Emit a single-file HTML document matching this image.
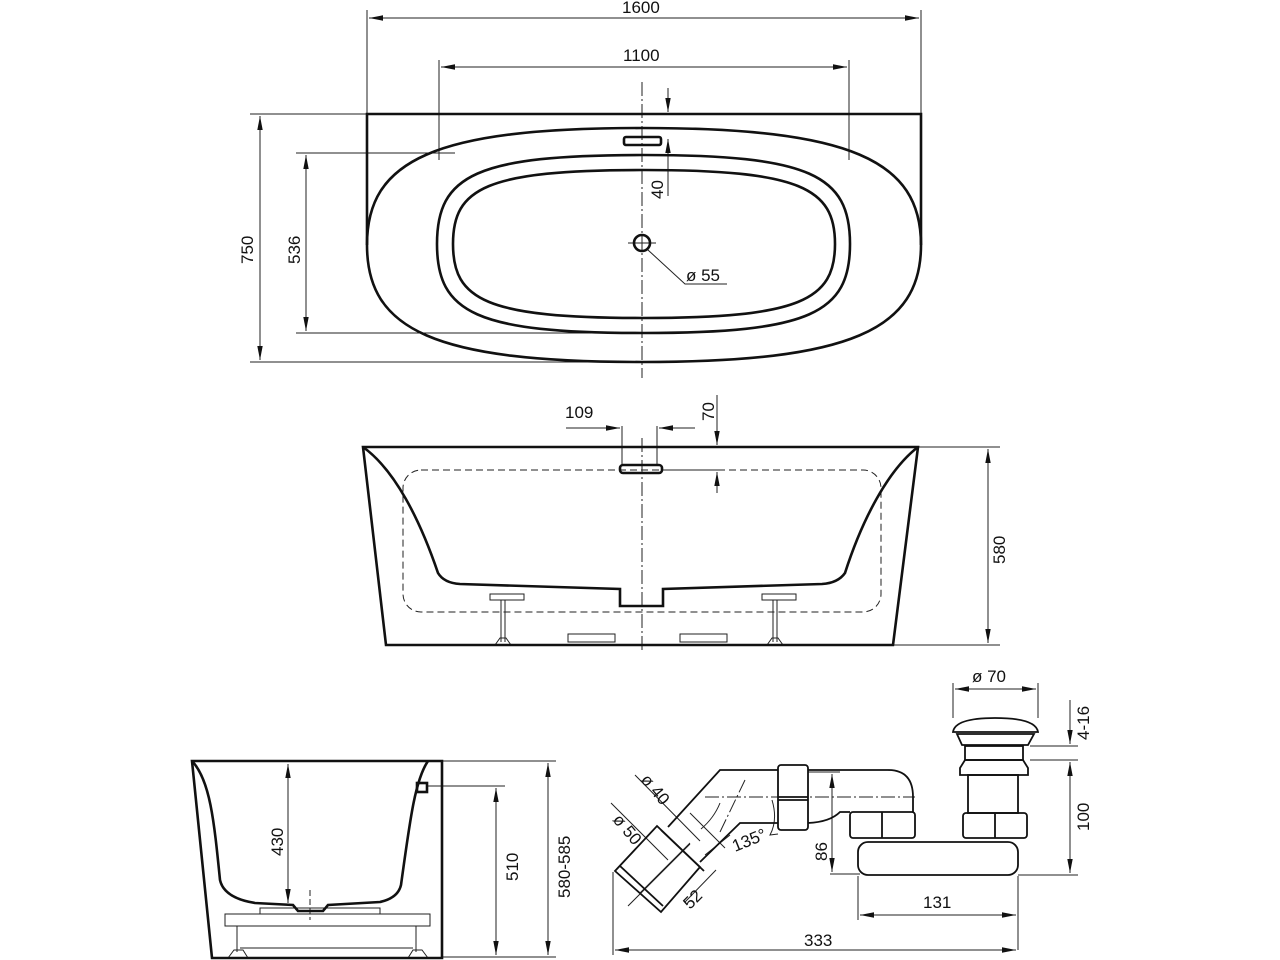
<!DOCTYPE html>
<html><head><meta charset="utf-8"><style>
html,body{margin:0;padding:0;background:#fff}
svg{display:block}
text{font-family:"Liberation Sans",sans-serif;font-size:17px;fill:#111}
</style></head><body>
<svg width="1280" height="960" viewBox="0 0 1280 960" xmlns="http://www.w3.org/2000/svg">
<defs>
<marker id="a" viewBox="0 0 14 6" refX="14" refY="3" markerWidth="14" markerHeight="6" markerUnits="userSpaceOnUse" orient="auto-start-reverse"><path d="M0 0.3 L14 3 L0 5.7 Z" fill="#111"/></marker>
</defs>
<g fill="none" stroke="#222" stroke-width="1">
<line x1="367" y1="10" x2="367" y2="114"/><line x1="921" y1="10" x2="921" y2="114"/>
<line x1="369" y1="18" x2="919" y2="18" marker-start="url(#a)" marker-end="url(#a)"/>
<line x1="439" y1="60" x2="439" y2="160"/><line x1="849" y1="60" x2="849" y2="160"/>
<line x1="441" y1="67" x2="847" y2="67" marker-start="url(#a)" marker-end="url(#a)"/>
<line x1="250" y1="114" x2="367" y2="114"/><line x1="250" y1="362" x2="640" y2="362"/>
<line x1="260" y1="116" x2="260" y2="360" marker-start="url(#a)" marker-end="url(#a)"/>
<line x1="296" y1="153" x2="455" y2="153"/><line x1="296" y1="333" x2="600" y2="333"/>
<line x1="306" y1="155" x2="306" y2="331" marker-start="url(#a)" marker-end="url(#a)"/>
<line x1="668" y1="88" x2="668" y2="112" marker-end="url(#a)"/>
<line x1="668" y1="196" x2="668" y2="139" marker-end="url(#a)"/>
<line x1="642" y1="82" x2="642" y2="378" stroke-dasharray="14 3 2 3"/>
<line x1="628" y1="243" x2="656" y2="243"/>
<polyline points="648,250 685,284 727,284"/>
</g>
<g fill="none" stroke="#111" stroke-width="2.6">
<path d="M367 245 L367 114 L921 114 L921 245"/>
<path d="M642 128 C850 128 921 160 921 245 C921 330 850 362 642 362 C434 362 367 330 367 245 C367 160 434 128 642 128 Z"/>
<path d="M643 155 C810 155 850 175 850 244 C850 313 810 333 643 333 C476 333 437 313 437 244 C437 175 476 155 643 155 Z"/>
<path d="M643 170 C800 170 835 188 835 244 C835 300 800 318 643 318 C486 318 453 300 453 244 C453 188 486 170 643 170 Z"/>
<rect x="624" y="137" width="37" height="8" rx="2"/>
<circle cx="642" cy="243" r="8"/>
</g>
<text x="622" y="13">1600</text>
<text x="623" y="61">1100</text>
<text transform="translate(253,264) rotate(-90)">750</text>
<text transform="translate(300,264) rotate(-90)">536</text>
<text transform="translate(663,199) rotate(-90)">40</text>
<text x="686" y="281">ø 55</text>

<g fill="none" stroke="#222" stroke-width="1">
<line x1="622" y1="426" x2="622" y2="466"/><line x1="657" y1="426" x2="657" y2="466"/>
<line x1="566" y1="428" x2="620" y2="428" marker-end="url(#a)"/>
<line x1="695" y1="428" x2="659" y2="428" marker-end="url(#a)"/>
<line x1="717" y1="395" x2="717" y2="445" marker-end="url(#a)"/>
<line x1="717" y1="493" x2="717" y2="472" marker-end="url(#a)"/>
<line x1="662" y1="470" x2="725" y2="470"/>
<line x1="918" y1="447" x2="1000" y2="447"/><line x1="893" y1="645" x2="1000" y2="645"/>
<line x1="988" y1="449" x2="988" y2="643" marker-start="url(#a)" marker-end="url(#a)"/>
<line x1="642" y1="438" x2="642" y2="652" stroke-dasharray="14 3 2 3"/>
<rect x="403" y="470" width="478" height="142" rx="18" stroke-dasharray="7 4"/>
<rect x="490" y="594" width="34" height="6"/>
<rect x="762" y="594" width="34" height="6"/>
<line x1="505" y1="600" x2="505" y2="642"/><line x1="501" y1="600" x2="501" y2="642"/>
<line x1="777" y1="600" x2="777" y2="642"/><line x1="773" y1="600" x2="773" y2="642"/>
<path d="M495 645 L500 638 L506 638 L511 645"/><path d="M767 645 L772 638 L778 638 L783 645"/>
<rect x="568" y="634" width="47" height="8"/><rect x="680" y="634" width="47" height="8"/>
</g>
<g fill="none" stroke="#111" stroke-width="2.6">
<path d="M363 447 L918 447 L893 645 L386 645 Z"/>
<path d="M363 447 C395 470 420 520 438 573 Q444 583 460 584 L620 589 L620 606 L663 606 L663 589 L822 584 Q838 583 845 573 C862 520 888 470 918 447"/>
<rect x="620" y="465" width="42" height="8" rx="3"/>
</g>
<text x="565" y="418">109</text>
<text transform="translate(714,421) rotate(-90)">70</text>
<text transform="translate(1005,564) rotate(-90)">580</text>

<g fill="none" stroke="#222" stroke-width="1">
<line x1="442" y1="761" x2="556" y2="761"/><line x1="428" y1="786" x2="505" y2="786"/>
<line x1="442" y1="957" x2="556" y2="957"/>
<line x1="288" y1="764" x2="288" y2="903" marker-start="url(#a)" marker-end="url(#a)"/>
<line x1="496" y1="788" x2="496" y2="955" marker-start="url(#a)" marker-end="url(#a)"/>
<line x1="548" y1="763" x2="548" y2="955" marker-start="url(#a)" marker-end="url(#a)"/>
<rect x="225" y="914" width="205" height="12"/>
<rect x="260" y="908" width="120" height="6"/>
<line x1="237" y1="926" x2="237" y2="952"/><line x1="416" y1="926" x2="416" y2="952"/>
<line x1="240" y1="948" x2="413" y2="948"/>
<path d="M228 958 L234 950 L243 950 L248 958"/><path d="M408 958 L413 950 L422 950 L428 958"/>
<line x1="310" y1="890" x2="310" y2="920" stroke-dasharray="6 3"/>
</g>
<g fill="none" stroke="#111" stroke-width="2.6">
<path d="M192 761 L442 761 L442 958 L212 958 Z"/>
<path d="M192 761 C210 780 214 820 220 880 Q224 898 255 903 L293 905 L298 911 L323 911 L328 905 L380 902 Q398 898 401 885 C410 820 415 780 428 761"/>
<rect x="417" y="783" width="10" height="9"/>
</g>
<text transform="translate(283,856) rotate(-90)">430</text>
<text transform="translate(518,881) rotate(-90)">510</text>
<text transform="translate(570,898) rotate(-90)">580-585</text>

<g fill="none" stroke="#222" stroke-width="1">
<line x1="953" y1="683" x2="953" y2="718"/><line x1="1038" y1="683" x2="1038" y2="718"/>
<line x1="955" y1="689" x2="1036" y2="689" marker-start="url(#a)" marker-end="url(#a)"/>
<line x1="1030" y1="746" x2="1078" y2="746"/><line x1="1030" y1="760" x2="1078" y2="760"/>
<line x1="1070" y1="700" x2="1070" y2="744" marker-end="url(#a)"/>
<line x1="1070" y1="762" x2="1070" y2="873" marker-start="url(#a)" marker-end="url(#a)"/>
<line x1="1018" y1="875" x2="1078" y2="875"/>
<line x1="808" y1="772" x2="840" y2="772"/>
<line x1="832" y1="774" x2="832" y2="872" marker-start="url(#a)" marker-end="url(#a)"/>
<line x1="830" y1="874" x2="860" y2="874"/>
<line x1="858" y1="876" x2="858" y2="920"/><line x1="1018" y1="876" x2="1018" y2="950"/>
<line x1="860" y1="915" x2="1016" y2="915" marker-start="url(#a)" marker-end="url(#a)"/>
<line x1="613" y1="872" x2="613" y2="955"/>
<line x1="615" y1="950" x2="1016" y2="950" marker-start="url(#a)" marker-end="url(#a)"/>
<line x1="705" y1="797" x2="915" y2="797" stroke-dasharray="14 3 2 3"/>
<path d="M701 829 Q714 818 720 803 M772 800 Q778 820 770 835 L778 834"/>
<path d="M635 775 L700 841 M611 803 L668 860 M640 893 L690 843 M690 813 L725 848 M628 906 L690 844"/>
<line x1="720" y1="832" x2="745" y2="780" stroke-dasharray="14 3 2 3"/>
<line x1="705" y1="855" x2="730" y2="835"/>
<line x1="685" y1="902" x2="716" y2="870"/>
</g>
<g fill="none" stroke="#111" stroke-width="1.8">
<path d="M953 732 Q955 718 995 718 Q1036 718 1038 732 Z"/>
<path d="M957 734 L1034 734 L1028 745 L962 745 Z"/>
<rect x="965" y="746" width="58" height="14"/>
<path d="M965 760 L1023 760 L1028 768 L1028 775 L960 775 L960 768 Z"/>
<rect x="968" y="775" width="50" height="38"/>
<rect x="963" y="813" width="64" height="25" rx="3"/><line x1="995" y1="813" x2="995" y2="838"/>
<rect x="858" y="842" width="160" height="33" rx="10"/>
<rect x="850" y="812" width="65" height="26" rx="3"/><line x1="882" y1="812" x2="882" y2="838"/>
<rect x="778" y="765" width="30" height="65" rx="3"/><line x1="778" y1="797" x2="808" y2="797"/><line x1="778" y1="800" x2="808" y2="800"/>
<path d="M808 770 L888 770 Q913 770 913 797 L913 812"/>
<path d="M808 823 Q830 822 840 812 L850 812"/>
<path d="M778 770 L720 770 L668 827"/>
<path d="M778 823 L740 823 L700 862"/>
<path d="M657 826 L700 867 L661 912 L615 871 Z"/>
<line x1="661" y1="830" x2="704" y2="871"/>
<line x1="620" y1="866" x2="663" y2="906"/>
</g>
<text x="972" y="682">ø 70</text>
<text transform="translate(1089,740) rotate(-90)">4-16</text>
<text transform="translate(1089,831) rotate(-90)">100</text>
<text transform="translate(827,861) rotate(-90)">86</text>
<text x="923" y="908">131</text>
<text x="804" y="946">333</text>
<text transform="translate(640,780) rotate(50)">ø 40</text>
<text transform="translate(612,820) rotate(50)">ø 50</text>
<text transform="translate(690,910) rotate(-45)">52</text>
<text transform="translate(735,852) rotate(-22)">135°</text>
</svg>
</body></html>
